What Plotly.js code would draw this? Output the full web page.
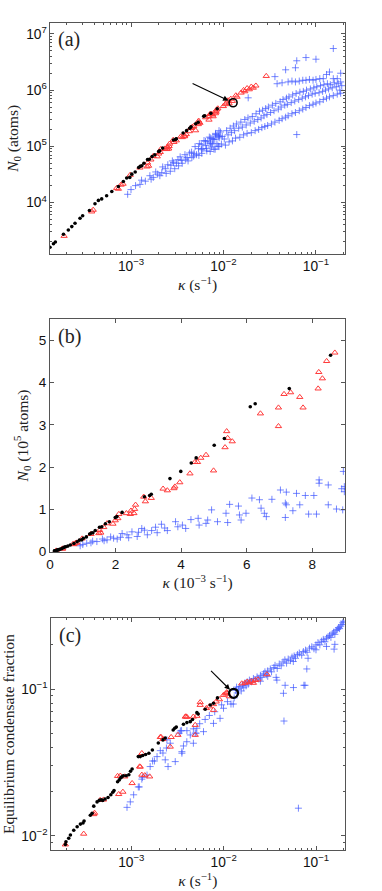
<!DOCTYPE html>
<html>
<head>
<meta charset="utf-8">
<script src="https://cdn.plot.ly/plotly-3.0.1.min.js"></script>
<style>
  html, body { margin: 0; padding: 0; background: #fff; }
  #plot { width: 382px; height: 891px; }
</style>
</head>
<body>
<div id="plot"></div>
<script>
// panels (a) and (b): kappa (s^-1) vs N0 (atoms)
const kBlack = [1.33e-4,1.45e-4,1.52e-4,1.86e-4,2.1e-4,2.29e-4,2.48e-4,2.81e-4,3.0e-4,3.55e-4,4.08e-4,4.44e-4,4.82e-4,5.45e-4,6.2e-4,7.3e-4,8.26e-4,8.98e-4,9.7e-4,1.02e-3,1.11e-3,1.21e-3,1.26e-3,1.31e-3,1.38e-3,1.51e-3,1.58e-3,1.69e-3,1.81e-3,1.99e-3,2.04e-3,2.2e-3,2.88e-3,3.04e-3,3.09e-3,3.66e-3,3.99e-3,4.31e-3,4.46e-3,5.01e-3,5.32e-3,6.11e-3,6.26e-3,7.3e-3,8.56e-3];
const nBlack = [1600,1850,1980,2730,3240,3730,4270,5260,5800,7200,9500,10900,11600,13200,15700,19300,23700,27300,28000,32000,35000,42000,44000,45000,50000,58000,59000,66000,71000,81000,83000,93000,130000,133000,136000,173000,190000,210000,222000,252000,268000,343000,350000,386000,465000];

const kRed = [1.89e-4,3.76e-4,3.9e-4,7.0e-4,7.3e-4,7.8e-4,8.2e-4,9.8e-4,1.25e-3,1.49e-3,1.55e-3,1.51e-3,1.64e-3,1.74e-3,1.92e-3,1.99e-3,2.07e-3,2.10e-3,2.33e-3,2.45e-3,2.47e-3,2.56e-3,2.58e-3,2.61e-3,2.86e-3,2.91e-3,3.09e-3,3.45e-3,3.58e-3,3.78e-3,3.81e-3,3.96e-3,4.27e-3,4.42e-3,4.50e-3,4.60e-3,4.76e-3,4.99e-3,5.34e-3,5.39e-3,5.42e-3,5.56e-3,6.42e-3,6.97e-3,6.97e-3,7.14e-3,7.34e-3,7.62e-3,7.72e-3,8.18e-3,8.20e-3,8.31e-3,8.44e-3,8.69e-3,9.96e-3,1.05e-2,1.08e-2,1.12e-2,1.15e-2,1.2e-2,1.25e-2,1.36e-2,1.4e-2,1.55e-2,1.65e-2,1.7e-2,1.8e-2,1.9e-2,2.0e-2,2.1e-2,2.24e-2,2.9e-2];
const nRed = [2540,6900,7400,18100,17500,20700,21500,31000,41700,43600,45000,51000,58000,67000,66000,74000,79000,89000,91000,89000,97000,91000,101000,111000,130000,119000,127000,149000,145000,150000,154000,164000,185000,212000,212000,222000,229000,192000,247000,285000,269000,261000,327000,297000,341000,373000,377000,366000,341000,386000,425000,410000,451000,471000,518000,560000,600000,655000,580000,700000,640000,804000,760000,900000,1000000,950000,1080000,1030000,1150000,1100000,1200000,1780000];

const kBlue = [9.2e-4,1.0e-3,1.12e-3,1.25e-3,1.3e-3,1.43e-3,1.6e-3,1.65e-3,1.74e-3,1.85e-3,1.94e-3,2.05e-3,2.15e-3,2.2e-3,2.35e-3,2.4e-3,2.5e-3,2.66e-3,2.7e-3,2.8e-3,2.88e-3,2.97e-3,3.1e-3,3.22e-3,3.27e-3,3.4e-3,3.5e-3,3.58e-3,3.83e-3,3.9e-3,4.04e-3,4.14e-3,4.3e-3,4.52e-3,4.55e-3,4.76e-3,4.81e-3,4.93e-3,5.11e-3,5.37e-3,5.42e-3,5.48e-3,5.75e-3,5.78e-3,5.83e-3,5.98e-3,6.16e-3,6.39e-3,6.44e-3,6.54e-3,6.6e-3,6.77e-3,7.03e-3,7.18e-3,7.18e-3,7.21e-3,7.21e-3,7.41e-3,7.52e-3,7.62e-3,7.79e-3,7.89e-3,8.05e-3,8.13e-3,8.21e-3,8.21e-3,8.49e-3,8.49e-3,8.74e-3,8.9e-3,8.93e-3,8.95e-3,8.98e-3,8.98e-3,
  0.0095,0.0097,0.0093,0.0105,0.0102,0.0108,0.0115,0.0112,0.0118,0.0125,0.0122,0.0128,0.0135,0.0132,0.0138,0.015,0.0146,0.0154,0.0165,0.016,0.017,0.018,0.0176,0.0184,0.0185,0.02,0.0195,0.0205,0.022,0.0215,0.0225,0.024,0.0235,0.0245,0.026,0.0255,0.0265,0.028,0.0274,0.0286,0.03,0.0295,0.0306,0.033,0.0323,0.0338,0.036,0.0352,0.0368,0.036,0.038,0.04,0.0392,0.041,0.043,0.042,0.044,0.043,0.047,0.046,0.048,0.047,0.05,0.049,0.051,0.05,0.055,0.054,0.056,0.055,0.06,0.059,0.061,0.06,0.06,0.062,0.062,0.066,0.065,0.067,0.066,0.072,0.071,0.073,0.072,0.078,0.077,0.079,0.078,0.078,0.085,0.083,0.087,0.085,0.093,0.091,0.095,0.093,0.1,0.098,0.102,0.1,0.1,0.11,0.108,0.112,0.11,0.12,0.118,0.122,0.12,0.13,0.127,0.133,0.13,0.14,0.137,0.143,0.14,0.154,0.15,0.158,0.154,0.154,0.17,0.166,0.174,0.17,0.185,0.181,0.19,0.185,0.185];
const nBlue = [14000,17000,20000,21000,25000,24000,30000,26000,28000,35000,32000,30000,34000,43000,40000,33000,47000,36000,46000,55000,51000,40000,50000,58000,45000,65000,56000,50000,71000,59000,63000,55000,76000,79000,63000,67000,75000,99000,71000,91000,69000,112000,108000,87000,75000,91000,127000,123000,103000,91000,83000,124000,146000,115000,81000,141000,111000,97000,138000,111000,133000,89000,133000,89000,170000,162000,158000,111000,101000,149000,99000,190000,154000,142000,
  110000,150000,180000,105000,135000,190000,120000,160000,210000,125000,175000,230000,140000,190000,250000,145000,210000,270000,160000,220000,300000,170000,240000,320000,730000,175000,260000,340000,190000,280000,380000,200000,300000,420000,215000,320000,440000,225000,350000,470000,235000,370000,500000,250000,400000,540000,270000,430000,580000,1740000,1300000,290000,460000,620000,310000,500000,680000,1350000,330000,540000,720000,2300000,350000,560000,760000,1400000,380000,600000,820000,1450000,400000,640000,870000,1400000,2500000,162000,3330000,430000,680000,920000,1450000,460000,720000,950000,1500000,490000,760000,1000000,1500000,3800000,530000,800000,1050000,1550000,560000,850000,1100000,1500000,590000,880000,1150000,1550000,3550000,620000,900000,1200000,1600000,680000,950000,1250000,1600000,720000,1000000,1300000,1900000,760000,1050000,1250000,2100000,800000,1100000,1350000,1600000,5500000,850000,1150000,1300000,1600000,880000,1000000,1200000,1400000,2000000];

// marked point in (a)
const markK = 0.0127, markN = 596000;

// panel (c): kappa (s^-1) vs equilibrium condensate fraction
const cKBlack = [1.93e-4,1.96e-4,2.1e-4,2.19e-4,2.38e-4,2.59e-4,2.81e-4,3.0e-4,3.08e-4,3.6e-4,3.76e-4,3.92e-4,4.26e-4,4.5e-4,4.7e-4,4.9e-4,5.2e-4,5.6e-4,6.0e-4,6.3e-4,6.5e-4,7.1e-4,7.4e-4,7.7e-4,7.9e-4,8.2e-4,8.8e-4,9.4e-4,9.8e-4,1.02e-3,1.19e-3,1.25e-3,1.33e-3,1.43e-3,1.55e-3,1.69e-3,1.96e-3,2.2e-3,2.33e-3,2.84e-3,2.95e-3,3.07e-3,3.67e-3,4.0e-3,4.35e-3,4.6e-3,5.13e-3,5.3e-3,6.31e-3,7.15e-3,7.76e-3,8.57e-3];
const cFBlack = [0.0087,0.0091,0.0096,0.0101,0.0109,0.0115,0.012,0.0122,0.0126,0.0138,0.0142,0.0159,0.017,0.0174,0.0176,0.0174,0.0178,0.0182,0.019,0.0198,0.0203,0.0233,0.024,0.0248,0.0252,0.0256,0.0256,0.026,0.0275,0.0285,0.0346,0.0346,0.0352,0.0358,0.0365,0.0384,0.0428,0.045,0.0463,0.0525,0.054,0.055,0.0575,0.059,0.0599,0.062,0.069,0.0676,0.0728,0.0778,0.0799,0.087];

const cKRed = [1.93e-4,3.05e-4,3.92e-4,4.0e-4,4.6e-4,5.0e-4,7.1e-4,7.3e-4,7.6e-4,8.1e-4,8.5e-4,1.02e-3,1.23e-3,1.25e-3,1.3e-3,1.3e-3,1.4e-3,1.58e-3,2.06e-3,2.1e-3,2.2e-3,2.64e-3,2.7e-3,3.2e-3,3.84e-3,3.9e-3,4.0e-3,4.7e-3,4.92e-3,4.92e-3,5.13e-3,5.57e-3,5.57e-3,6.5e-3,7.0e-3,7.76e-3,7.76e-3,8.3e-3,9.0e-3,9.96e-3,1.05e-2,1.08e-2,1.08e-2,1.15e-2,1.57e-2,1.7e-2,1.8e-2,1.9e-2,2.0e-2,2.1e-2,2.2e-2,2.35e-2,2.94e-2];
const cFRed = [0.0087,0.0103,0.014,0.0143,0.0175,0.0176,0.0255,0.0192,0.0256,0.0199,0.0253,0.0228,0.0296,0.0295,0.0365,0.026,0.0258,0.0253,0.047,0.047,0.0455,0.0404,0.047,0.0486,0.0647,0.065,0.0645,0.0647,0.0568,0.0486,0.0655,0.0778,0.0812,0.074,0.076,0.0719,0.0787,0.082,0.085,0.091,0.093,0.095,0.0935,0.089,0.109,0.11,0.112,0.111,0.113,0.11,0.115,0.116,0.1259];

const cKBlue = [8.98e-4,9.75e-4,1.06e-3,1.19e-3,1.22e-3,1.3e-3,1.32e-3,1.48e-3,1.6e-3,1.7e-3,1.78e-3,1.9e-3,2.06e-3,2.2e-3,2.33e-3,2.4e-3,2.43e-3,2.5e-3,2.64e-3,2.99e-3,3.3e-3,3.4e-3,3.5e-3,3.53e-3,3.53e-3,3.67e-3,3.99e-3,4.0e-3,4.35e-3,4.7e-3,4.7e-3,4.92e-3,5.04e-3,5.13e-3,5.5e-3,6.05e-3,6.3e-3,7.0e-3,7.76e-3,8.0e-3,9.14e-3,9.5e-3,9.96e-3,1.1e-2,1.2e-2,1.27e-2,1.3e-2,
  0.0135,0.0138,0.014,0.0145,0.015,0.0155,0.016,0.0165,0.017,0.0175,0.018,0.0185,0.019,0.02,0.021,0.022,0.023,0.024,0.025,0.026,0.027,0.028,0.029,0.03,0.032,0.033,0.035,0.036,0.038,0.04,0.042,0.044,0.046,0.048,0.05,0.053,0.055,0.058,0.06,0.063,0.066,0.07,0.073,0.077,0.08,0.085,0.09,0.095,0.1,0.105,0.11,0.115,0.12,0.125,0.13,0.135,0.14,0.145,0.15,0.155,0.16,0.165,0.17,0.175,0.18,0.185,0.19,0.195,0.198,
  0.16,0.157,0.0795,0.082,0.076,0.057,0.0568,0.0444,0.045,0.0463,0.0645,0.037,0.0377,0.074,0.1,0.13,0.025,0.03];
const cFBlue = [0.0156,0.017,0.019,0.0215,0.0215,0.0243,0.025,0.0259,0.0296,0.0323,0.0323,0.0346,0.038,0.0366,0.0329,0.0396,0.045,0.0296,0.0427,0.032,0.05,0.0518,0.052,0.0365,0.0374,0.0409,0.0437,0.052,0.0486,0.0427,0.0535,0.05,0.05,0.054,0.058,0.0512,0.062,0.066,0.0583,0.07,0.0631,0.078,0.0739,0.082,0.079,0.079,0.087,
  0.098,0.103,0.094,0.1,0.104,0.097,0.106,0.102,0.11,0.105,0.112,0.108,0.115,0.112,0.118,0.115,0.121,0.117,0.124,0.12,0.127,0.131,0.125,0.133,0.137,0.131,0.14,0.145,0.138,0.148,0.144,0.153,0.158,0.15,0.16,0.156,0.165,0.168,0.162,0.172,0.176,0.17,0.18,0.184,0.178,0.19,0.194,0.188,0.2,0.207,0.2,0.212,0.218,0.21,0.222,0.227,0.232,0.225,0.238,0.244,0.236,0.25,0.255,0.262,0.258,0.268,0.275,0.283,0.29,
  0.2016,0.187,0.137,0.162,0.106,0.1023,0.154,0.0935,0.0605,0.106,0.0154,0.12,0.115,0.106,0.185,0.195,0.113,0.122];

// marked point in (c)
const markKc = 0.0128, markFc = 0.0935;

const RED = '#ff3b3b', BLUE = '#3d55ff', FRAME = '#555';
const blueMk = { symbol: 'cross-thin-open', size: 5, color: BLUE, opacity: 0.7, line: { width: 1, color: BLUE } };
const redMk = { symbol: 'triangle-up-open', size: 5.5, color: RED, line: { width: 1, color: RED } };
const blackMk = { symbol: 'circle', size: 3.6, color: '#000' };

// (b) is drawn in units of 1e-3 s^-1 and 1e5 atoms
const milli = a => a.map(v => v * 1e3);
const e5 = a => a.map(v => v / 1e5);

function sc(x, y, marker, xa, ya) {
  return { x: x, y: y, type: 'scatter', mode: 'markers', marker: marker, xaxis: xa, yaxis: ya, hoverinfo: 'skip' };
}

const data = [
  sc(kBlue, nBlue, blueMk, 'x', 'y'),
  sc(kRed, nRed, redMk, 'x', 'y'),
  sc(kBlack, nBlack, blackMk, 'x', 'y'),
  sc([markK], [markN], { symbol: 'circle-open', size: 8, color: '#000', line: { width: 1.6, color: '#000' } }, 'x', 'y'),

  sc(milli(kBlue), e5(nBlue), blueMk, 'x2', 'y2'),
  sc(milli(kRed), e5(nRed), redMk, 'x2', 'y2'),
  sc(milli(kBlack), e5(nBlack), blackMk, 'x2', 'y2'),

  sc(cKBlue, cFBlue, blueMk, 'x3', 'y3'),
  sc(cKRed, cFRed, redMk, 'x3', 'y3'),
  sc(cKBlack, cFBlack, blackMk, 'x3', 'y3'),
  sc([markKc], [markFc], { symbol: 'circle-open', size: 9, color: '#000', line: { width: 2.2, color: '#000' } }, 'x3', 'y3')
];

const tickFont = { family: 'Liberation Sans', size: 11, color: '#111' };
const linFont = { family: 'Liberation Sans', size: 13.5, color: '#111' };
const titleFont = { family: 'Liberation Serif', size: 15.5, color: '#222' };
const labFont = { family: 'Liberation Serif', size: 20, color: '#222' };
const xDom = [50 / 382, 345 / 382];

function axis(extra) {
  return Object.assign({
    showline: true, linecolor: FRAME, linewidth: 1, mirror: 'allticks',
    ticks: 'inside', ticklen: 4, tickcolor: FRAME, showgrid: false, zeroline: false,
    tickfont: tickFont, fixedrange: true
  }, extra);
}
const logMinor = { ticks: 'inside', ticklen: 2, tickcolor: FRAME, showgrid: false };

const kTitle = '<i>κ</i> (s<sup>−1</sup>)';

const layout = {
  width: 382, height: 891,
  margin: { l: 0, r: 0, t: 0, b: 0 },
  paper_bgcolor: '#fff', plot_bgcolor: '#fff',
  showlegend: false,
  xaxis: axis({ type: 'log', domain: xDom, anchor: 'y', range: [-3.876, -0.686], dtick: 1, exponentformat: 'power', minor: logMinor,
    title: { text: kTitle, font: titleFont, standoff: 0 } }),
  yaxis: axis({ type: 'log', domain: [1 - 254 / 891, 1 - 22.7 / 891], anchor: 'x', range: [3.084, 7.2], dtick: 1, exponentformat: 'power', minor: logMinor,
    title: { text: '<i>N</i><sub>0</sub> (atoms)', font: titleFont, standoff: 3 } }),
  xaxis2: axis({ domain: xDom, anchor: 'y2', range: [0, 9], dtick: 2, tickfont: linFont,
    title: { text: '<i>κ</i> (10<sup>−3</sup> s<sup>−1</sup>)', font: titleFont, standoff: 0 } }),
  yaxis2: axis({ domain: [1 - 551.7 / 891, 1 - 319.3 / 891], anchor: 'x2', range: [0, 5.5], dtick: 1, tickfont: linFont,
    title: { text: '<i>N</i><sub>0</sub> (10<sup>5</sup> atoms)', font: titleFont, standoff: 6 } }),
  xaxis3: axis({ type: 'log', domain: [50.7 / 382, 345 / 382], anchor: 'y3', range: [-3.873, -0.686], dtick: 1, exponentformat: 'power', minor: logMinor,
    title: { text: kTitle, font: titleFont, standoff: 0 } }),
  yaxis3: axis({ type: 'log', domain: [1 - 850 / 891, 1 - 618.3 / 891], anchor: 'x3', range: [-2.0975, -0.518], dtick: 1, exponentformat: 'power', minor: logMinor,
    title: { text: 'Equilibrium condensate fraction', font: titleFont, standoff: 2 } }),
  annotations: [
    { xref: 'x domain', yref: 'y domain', x: 0.02, y: 0.985, xanchor: 'left', yanchor: 'top', showarrow: false, text: '(a)', font: labFont },
    { xref: 'x2 domain', yref: 'y2 domain', x: 0.02, y: 0.985, xanchor: 'left', yanchor: 'top', showarrow: false, text: '(b)', font: labFont },
    { xref: 'x3 domain', yref: 'y3 domain', x: 0.02, y: 0.985, xanchor: 'left', yanchor: 'top', showarrow: false, text: '(c)', font: labFont },
    { xref: 'x', yref: 'y', x: Math.log10(markK), y: Math.log10(markN), text: '', showarrow: true, arrowhead: 2, arrowsize: 1, arrowwidth: 1.1, arrowcolor: '#000', standoff: 5, ax: -42, ay: -20 },
    { xref: 'x3', yref: 'y3', x: Math.log10(markKc), y: Math.log10(markFc), text: '', showarrow: true, arrowhead: 2, arrowsize: 1, arrowwidth: 1.1, arrowcolor: '#000', standoff: 5, ax: -24, ay: -24 }
  ]
};

Plotly.newPlot('plot', data, layout, { staticPlot: true, displayModeBar: false });
</script>
</body>
</html>
